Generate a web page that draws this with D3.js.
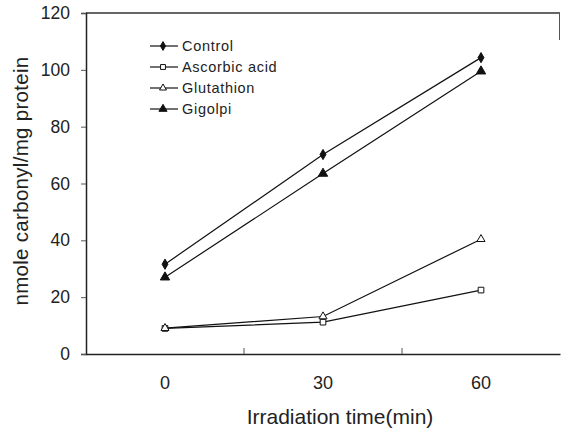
<!DOCTYPE html>
<html lang="en">
<head>
<meta charset="UTF-8">
<title>Carbonyl vs irradiation time</title>
<script src="https://d3js.org/d3.v7.min.js"></script>
<style>
  body { margin: 0; background: #fff; }
  text { font-family: "Liberation Sans", Arial, sans-serif; fill: #222; }
</style>
</head>
<body>
<div id="chart"></div>
<script>
  // data
  const times = ["0", "30", "60"];
  const control = [31.6, 70.2, 104.3];
  const ascorbic = [9.0, 11.2, 22.5];
  const glutathion = [9.1, 13.2, 40.4];
  const gigolpi = [27.0, 63.5, 99.5];
  const yTicks = [0, 20, 40, 60, 80, 100, 120];

  const series = [
    { name: "Control", values: control, symbol: d3.symbolDiamond, size: 30, fill: "#111" },
    { name: "Ascorbic acid", values: ascorbic, symbol: d3.symbolSquare, size: 32, fill: "#fff" },
    { name: "Glutathion", values: glutathion, symbol: d3.symbolTriangle, size: 28, fill: "#fff" },
    { name: "Gigolpi", values: gigolpi, symbol: d3.symbolTriangle, size: 38, fill: "#111" }
  ];

  const W = 561, H = 432;
  const margin = { top: 13, right: 1, bottom: 78, left: 86 };
  const width = W - margin.left - margin.right,
        height = H - margin.top - margin.bottom;

  const svg = d3.select("#chart").append("svg")
      .attr("width", W)
      .attr("height", H);
  const g = svg.append("g")
      .attr("transform", `translate(${margin.left},${margin.top})`);

  const x = d3.scaleBand().domain(times).range([0, width]);
  const y = d3.scaleLinear().domain([0, 120]).range([height, 0]);

  // frame: top line, short piece on the right, left and bottom axes
  g.append("line").attr("x1", 0).attr("x2", width).attr("y1", 0).attr("y2", 0)
    .attr("stroke", "#333").attr("stroke-width", 1.5);
  g.append("line").attr("x1", width - 0.5).attr("x2", width - 0.5).attr("y1", 0).attr("y2", 27)
    .attr("stroke", "#555").attr("stroke-width", 1);

  // Y axis
  const yAxis = g.append("g")
    .call(d3.axisLeft(y).tickValues(yTicks).tickSize(5).tickPadding(11))
    .style("font-family", "Liberation Sans, Arial, sans-serif")
    .style("font-size", "17.5px");
  yAxis.select(".domain").attr("stroke", "#222").attr("stroke-width", 1.5);
  yAxis.selectAll(".tick line").attr("stroke", "#555");
  yAxis.selectAll(".tick text").attr("fill", "#222");

  // X axis: labels at band centres, ticks at inner band edges pointing up
  const xAxis = g.append("g")
    .attr("transform", `translate(0,${height})`)
    .call(d3.axisBottom(x).tickSize(0).tickPadding(22))
    .style("font-family", "Liberation Sans, Arial, sans-serif")
    .style("font-size", "18px");
  xAxis.select(".domain").attr("stroke", "#222").attr("stroke-width", 1.5);
  xAxis.selectAll(".tick text").attr("fill", "#222");
  g.append("g").selectAll("line")
    .data(times.slice(1))
    .join("line")
      .attr("x1", d => x(d)).attr("x2", d => x(d))
      .attr("y1", height).attr("y2", height - 6)
      .attr("stroke", "#555");

  // axis titles
  svg.append("text")
    .attr("x", 340).attr("y", 424)
    .attr("text-anchor", "middle")
    .style("font-family", "Liberation Sans Narrow, Arial Narrow, sans-serif")
    .style("font-size", "21px")
    .text("Irradiation time(min)");
  svg.append("text")
    .attr("transform", "translate(28,181) rotate(-90)")
    .attr("text-anchor", "middle")
    .style("font-size", "20.5px")
    .style("letter-spacing", "0.3px")
    .text("nmole carbonyl/mg protein");

  // lines and markers
  const line = d3.line()
    .x((d, i) => x(times[i]) + x.bandwidth() / 2)
    .y(d => y(d));

  series.forEach(s => {
    g.append("path")
      .datum(s.values)
      .attr("fill", "none")
      .attr("stroke", "#111")
      .attr("stroke-width", 1.2)
      .attr("d", line);
    g.append("g").selectAll("path")
      .data(s.values)
      .join("path")
        .attr("transform", (d, i) => `translate(${x(times[i]) + x.bandwidth() / 2},${y(d)})`)
        .attr("d", d3.symbol(s.symbol, s.size))
        .attr("fill", s.fill)
        .attr("stroke", "#111")
        .attr("stroke-width", 1);
  });

  // legend
  const legend = svg.append("g").attr("transform", "translate(150,46)");
  const rows = legend.selectAll("g")
    .data(series)
    .join("g")
      .attr("transform", (d, i) => `translate(0,${i * 21})`);
  rows.append("line")
    .attr("x1", 0).attr("x2", 28)
    .attr("stroke", "#111").attr("stroke-width", 1.2);
  rows.append("path")
    .attr("transform", "translate(13,0)")
    .attr("d", d => d3.symbol(d.symbol, d.size * 0.75)())
    .attr("fill", d => d.fill)
    .attr("stroke", "#111");
  rows.append("text")
    .attr("x", 32).attr("dy", "0.35em")
    .style("font-size", "14.5px")
    .style("letter-spacing", "0.7px")
    .text(d => d.name);
</script>
</body>
</html>
